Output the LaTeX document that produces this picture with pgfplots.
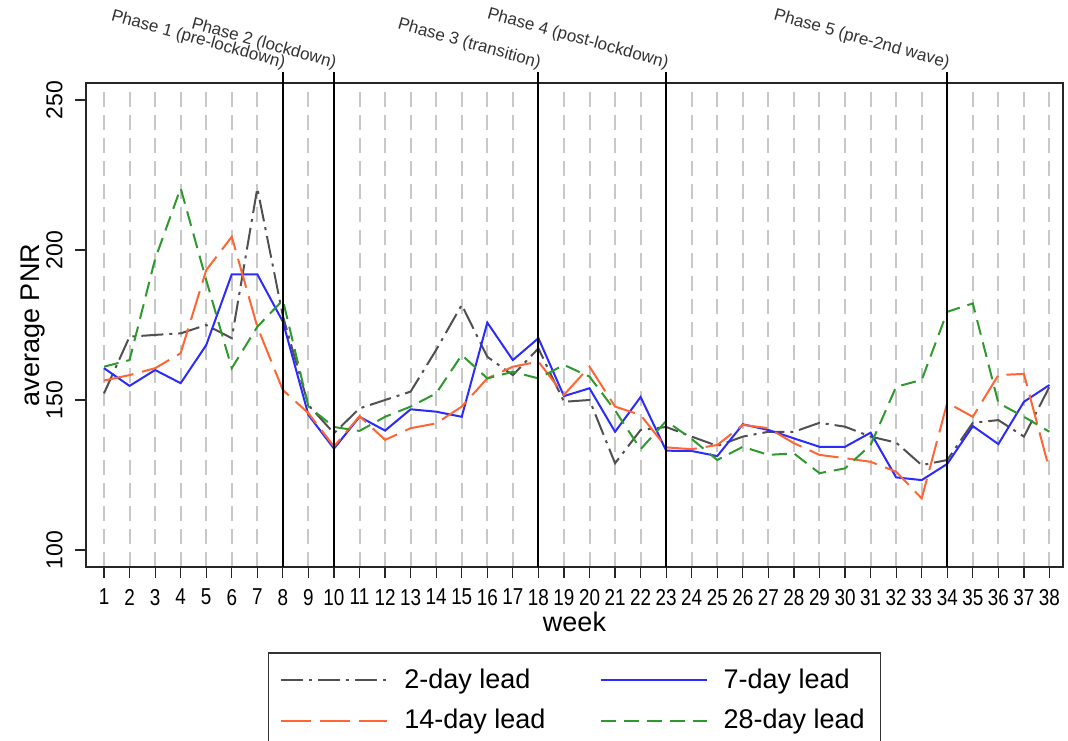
\documentclass[border=0pt]{standalone}
\usepackage{fontspec}
\setmainfont{Liberation Sans}
\usepackage{pgfplots}
\pgfplotsset{compat=1.18}
\usepackage{pgfplotstable}
\definecolor{cgray}{HTML}{505050}
\definecolor{cblue}{HTML}{2B2BFF}
\definecolor{corange}{HTML}{FF6633}
\definecolor{cgreen}{HTML}{2E9A2E}
\definecolor{gridc}{HTML}{C8C8C8}

\pgfplotstableread{
week gray blue orange green
1 152.2 160.6 156.5 161.1
2 171.1 154.7 158.3 163.3
3 171.7 160.0 160.6 197.0
4 172.2 155.6 165.6 220.6
5 175.0 168.3 193.3 190.0
6 170.6 191.9 204.4 160.6
7 220.6 191.9 174.4 174.4
8 178.0 176.1 153.3 183.3
9 148.3 145.0 145.6 147.8
10 138.9 133.8 134.5 141.0
11 147.2 144.4 144.6 139.7
12 150.0 139.8 136.7 144.4
13 152.8 146.9 140.6 147.8
14 166.7 146.1 142.2 152.2
15 181.7 144.4 147.8 165.0
16 164.4 175.8 157.2 157.2
17 158.3 163.3 161.1 159.4
18 167.2 170.6 162.8 157.2
19 149.4 151.3 151.7 161.7
20 150.0 153.9 161.1 157.8
21 128.9 139.4 147.8 146.5
22 140.0 151.0 145.0 133.6
23 141.0 133.1 134.2 143.0
24 137.8 133.0 133.6 137.0
25 134.7 131.3 135.0 130.0
26 137.8 141.9 141.7 134.4
27 139.4 140.0 140.6 131.7
28 139.4 137.2 135.6 132.2
29 142.4 134.4 131.7 125.6
30 141.1 134.4 130.6 127.2
31 137.8 139.1 129.4 135.0
32 135.8 124.2 126.1 154.4
33 128.3 123.3 117.2 156.7
34 130.0 128.7 149.1 179.4
35 142.4 141.3 144.4 182.2
36 143.3 135.3 158.3 149.0
37 137.8 149.4 158.7 144.4
38 154.4 155.0 126.7 139.4
}\data

\begin{document}
\begin{tikzpicture}
\begin{axis}[
  name=ax, at={(0,0)}, anchor=south west,
  scale only axis, width=488.5pt, height=242pt,
  xmin=0.2955, xmax=38.53, ymin=94.33, ymax=255.67,
  xtick={1,...,38}, ytick={100,150,200,250},
  axis line style={line width=1pt, black!85},
  tick style={line width=0.6pt, black!85},
  major tick length=5.5pt,
  tick align=outside, xtick pos=bottom, ytick pos=left,
  xmajorgrids,
  major x grid style={gridc, line width=1pt, dash pattern=on 7.5pt off 4pt},
  /pgf/number format/assume math mode=true,
  xticklabel={\scalebox{0.82}[1]{\pgfmathprintnumber{\tick}}},
  xticklabel style={font=\fontsize{11.5}{13}\selectfont, yshift=-2pt},
  yticklabel style={rotate=90, anchor=south, inner sep=6pt, font=\fontsize{11.5}{13}\selectfont},
  xlabel={week}, ylabel={average PNR},
  label style={font=\fontsize{13.5}{16}\selectfont},
  xlabel style={at={(axis description cs:0.5,0)}, anchor=base, yshift=-32.5pt},
  ylabel style={at={(axis description cs:-0.0542,0.5)}, anchor=center},
  clip=false,
  legend columns=2,
  legend style={at={(0.5,0)}, anchor=north, yshift=-42.5pt,
    draw=black!80, line width=0.8pt, font=\fontsize{13.5}{16}\selectfont,
    inner xsep=6pt, inner ysep=6pt, row sep=5pt,
    /tikz/every odd column/.append style={column sep=6pt},
    /tikz/every even column/.append style={column sep=25pt},
    cells={anchor=west}},
  legend image code/.code={\draw[#1] (0pt,0pt) -- (53pt,0pt);},
]
\addplot[cgray, line width=1pt, dash pattern=on 11pt off 3pt on 1.5pt off 3pt] table[x=week, y=gray] {\data};
\addlegendentry{2-day lead}
\addplot[cblue, line width=1pt] table[x=week, y=blue] {\data};
\addlegendentry{7-day lead}
\addplot[corange, line width=1pt, dash pattern=on 15pt off 4.5pt] table[x=week, y=orange] {\data};
\addlegendentry{14-day lead}
\addplot[cgreen, line width=1pt, dash pattern=on 7.5pt off 4pt] table[x=week, y=green] {\data};
\addlegendentry{28-day lead}

\foreach \w in {8,10,18,23,34} {
  \edef\tmp{\noexpand\draw[black, line width=1pt] (axis cs:\w,94.33) -- ([yshift=5.5pt]axis cs:\w,255.67);}
  \tmp
}
\tikzset{phase/.style={rotate=-15.5, anchor=south east, inner sep=0pt, font=\fontsize{8.5}{10}\selectfont, black!80}}
\node[phase] at ([yshift=5.5pt]axis cs:8,255.67) {Phase 1 (pre-lockdown)};
\node[phase] at ([yshift=5.5pt]axis cs:10,255.67) {Phase 2 (lockdown)};
\node[phase] at ([yshift=5.5pt]axis cs:18,255.67) {Phase 3 (transition)};
\node[phase] at ([yshift=5.5pt]axis cs:23,255.67) {Phase 4 (post-lockdown)};
\node[phase] at ([yshift=5.5pt]axis cs:34,255.67) {Phase 5 (pre-2nd wave)};
\end{axis}
\pgfresetboundingbox
\path[use as bounding box] ([shift={(-43pt,-87pt)}]ax.south west) rectangle ([shift={(2.5pt,41.5pt)}]ax.north east);
\end{tikzpicture}
\end{document}
